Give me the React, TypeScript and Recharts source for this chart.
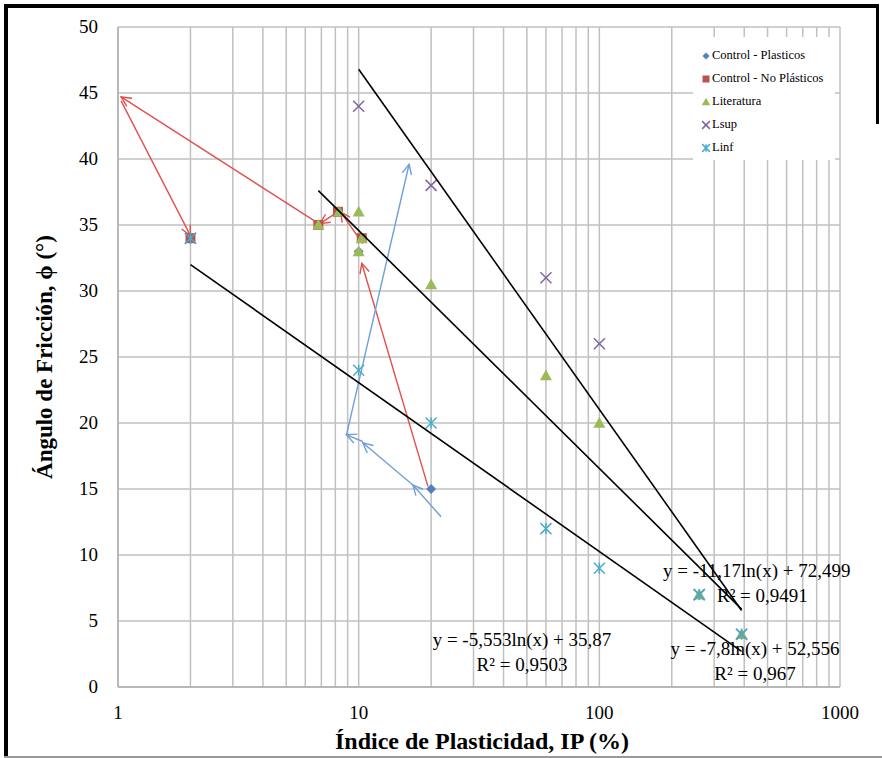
import {
  ScatterChart,
  Scatter,
  XAxis,
  YAxis,
  CartesianGrid,
  ReferenceLine,
} from "recharts";

// puntos de ensayo (IP %, phi grados)
const controlPlasticos = [
  { ip: 20, phi: 15 },
  { ip: 10, phi: 33 },
];
const controlNoPlasticos = [
  { ip: 2, phi: 34 },
  { ip: 6.8, phi: 35 },
  { ip: 8.2, phi: 36 },
  { ip: 10.3, phi: 34 },
];
const literatura = [
  { ip: 6.8, phi: 35 },
  { ip: 8.3, phi: 36 },
  { ip: 10, phi: 36 },
  { ip: 10.3, phi: 34 },
  { ip: 10, phi: 33 },
  { ip: 20, phi: 30.5 },
  { ip: 60, phi: 23.6 },
  { ip: 100, phi: 20 },
  { ip: 260, phi: 7 },
  { ip: 390, phi: 4 },
];
const lsup = [
  { ip: 2, phi: 34 },
  { ip: 10, phi: 44 },
  { ip: 20, phi: 38 },
  { ip: 60, phi: 31 },
  { ip: 100, phi: 26 },
  { ip: 260, phi: 7 },
  { ip: 390, phi: 4 },
];
const linf = [
  { ip: 2, phi: 34 },
  { ip: 10, phi: 24 },
  { ip: 20, phi: 20 },
  { ip: 60, phi: 12 },
  { ip: 100, phi: 9 },
  { ip: 260, phi: 7 },
  { ip: 390, phi: 4 },
];

// extremos de las lineas de tendencia
const trendLinf = [
  { ip: 2, phi: 32.0 },
  { ip: 390, phi: 2.7 },
];
const trendLit = [
  { ip: 6.8, phi: 37.6 },
  { ip: 390, phi: 5.9 },
];
const trendLsup = [
  { ip: 10, phi: 46.8 },
  { ip: 390, phi: 5.8 },
];

// flechas [desde, hasta]
const redArrows = [
  [{ x: 19.4, y: 15.2 }, { x: 10.3, y: 32.1 }],
  [{ x: 10.4, y: 33.6 }, { x: 8.4, y: 36.0 }],
  [{ x: 8.2, y: 36.0 }, { x: 6.9, y: 35.1 }],
  [{ x: 6.7, y: 35.2 }, { x: 1.03, y: 44.7 }],
  [{ x: 1.03, y: 44.4 }, { x: 2, y: 34.2 }],
];
const blueArrows = [
  [{ x: 22, y: 12.9 }, { x: 16.8, y: 15.3 }],
  [{ x: 16.8, y: 15.3 }, { x: 10.4, y: 18.5 }],
  [{ x: 10.4, y: 18.6 }, { x: 8.9, y: 19.1 }],
  [{ x: 8.9, y: 19.1 }, { x: 16.2, y: 39.6 }],
];

const xTicks = [
  1, 2, 3, 4, 5, 6, 7, 8, 9, 10, 20, 30, 40, 50, 60, 70, 80, 90, 100, 200,
  300, 400, 500, 600, 700, 800, 900, 1000,
];
const xLabels = [1, 10, 100, 1000];
const yTicks = [0, 5, 10, 15, 20, 25, 30, 35, 40, 45, 50];

const legendItems = [
  { name: "Control - Plasticos", kind: "diamond", color: "#4F81BD" },
  { name: "Control - No Plásticos", kind: "square", color: "#C0504D" },
  { name: "Literatura", kind: "triangle", color: "#9BBB59" },
  { name: "Lsup", kind: "x", color: "#8064A2" },
  { name: "Linf", kind: "star", color: "#4BACC6" },
];

const SERIF = "'Liberation Serif', 'Times New Roman', serif";

const marker = (kind: string, color: string, cx: number, cy: number, s = 1) => {
  if (kind === "diamond") {
    const r = 5 * s;
    return <path d={`M${cx},${cy - r}L${cx + r},${cy}L${cx},${cy + r}L${cx - r},${cy}Z`} fill={color} />;
  }
  if (kind === "square") {
    const r = 5 * s;
    return <rect x={cx - r} y={cy - r} width={2 * r} height={2 * r} fill={color} />;
  }
  if (kind === "triangle") {
    const r = 6 * s;
    return <path d={`M${cx},${cy - r}L${cx + r},${cy + r * 0.8}L${cx - r},${cy + r * 0.8}Z`} fill={color} />;
  }
  const r = 5.5 * s;
  return (
    <g stroke={color} strokeWidth={1.5}>
      <line x1={cx - r} y1={cy - r} x2={cx + r} y2={cy + r} />
      <line x1={cx - r} y1={cy + r} x2={cx + r} y2={cy - r} />
      {kind === "star" && <line x1={cx} y1={cy - r} x2={cx} y2={cy + r} />}
    </g>
  );
};

const shapeFor = (kind: string, color: string) => (p: any) => marker(kind, color, p.cx, p.cy);

const arrowShape = (color: string) => (p: any) => {
  const { x1, y1, x2, y2 } = p;
  const a = Math.atan2(y2 - y1, x2 - x1);
  const len = 11;
  const sp = 0.45;
  const hx1 = x2 - len * Math.cos(a - sp);
  const hy1 = y2 - len * Math.sin(a - sp);
  const hx2 = x2 - len * Math.cos(a + sp);
  const hy2 = y2 - len * Math.sin(a + sp);
  return (
    <g stroke={color} strokeWidth={1.4} fill="none">
      <line x1={x1} y1={y1} x2={x2} y2={y2} />
      <path d={`M${hx1},${hy1}L${x2},${y2}L${hx2},${hy2}`} />
    </g>
  );
};

const XTick = ({ x, y, payload }: any) =>
  xLabels.includes(payload.value) ? (
    <text x={x} y={y + 24} textAnchor="middle" fontFamily={SERIF} fontSize={19} fill="#000">
      {payload.value}
    </text>
  ) : (
    <g />
  );

const YTick = ({ y, payload }: any) => (
  <text x={98} y={y + 6} textAnchor="end" fontFamily={SERIF} fontSize={19} fill="#000">
    {payload.value}
  </text>
);

const noDot = () => <g />;

export default function App() {
  return (
    <div style={{ position: "absolute", left: 0, top: 0, width: 882, height: 758, background: "#fff" }}>
      <ScatterChart width={882} height={758} margin={{ top: 27, right: 42, bottom: 0, left: 0 }}>
        <CartesianGrid stroke="#c0c0c0" strokeWidth={1.5} />
        <XAxis
          type="number"
          dataKey="ip"
          scale="log"
          domain={[1, 1000]}
          ticks={xTicks}
          interval={0}
          tick={<XTick />}
          tickLine={false}
          axisLine={{ stroke: "#b0b0b0", strokeWidth: 1.5 }}
          height={71}
          allowDataOverflow
        />
        <YAxis
          type="number"
          dataKey="phi"
          domain={[0, 50]}
          ticks={yTicks}
          interval={0}
          tick={<YTick />}
          tickLine={false}
          axisLine={{ stroke: "#b0b0b0", strokeWidth: 1.5 }}
          width={118}
        />
        <Scatter name="Control - Plasticos" data={controlPlasticos} shape={shapeFor("diamond", "#4F81BD")} isAnimationActive={false} />
        <Scatter name="Control - No Plásticos" data={controlNoPlasticos} shape={shapeFor("square", "#C0504D")} isAnimationActive={false} />
        <Scatter name="Literatura" data={literatura} shape={shapeFor("triangle", "#9BBB59")} isAnimationActive={false} />
        <Scatter name="Lsup" data={lsup} shape={shapeFor("x", "#8064A2")} isAnimationActive={false} />
        <Scatter name="Linf" data={linf} shape={shapeFor("star", "#4BACC6")} isAnimationActive={false} />
        <Scatter data={trendLinf} line={{ stroke: "#000", strokeWidth: 1.6 }} shape={noDot} legendType="none" isAnimationActive={false} />
        <Scatter data={trendLit} line={{ stroke: "#000", strokeWidth: 1.6 }} shape={noDot} legendType="none" isAnimationActive={false} />
        <Scatter data={trendLsup} line={{ stroke: "#000", strokeWidth: 1.6 }} shape={noDot} legendType="none" isAnimationActive={false} />
        {redArrows.map((s, i) => (
          <ReferenceLine key={"r" + i} segment={s} shape={arrowShape("#E0504F")} ifOverflow="visible" />
        ))}
        {blueArrows.map((s, i) => (
          <ReferenceLine key={"b" + i} segment={s} shape={arrowShape("#6F9FD6")} ifOverflow="visible" />
        ))}
      </ScatterChart>
      <div
        style={{
          position: "absolute",
          left: 693,
          top: 37,
          width: 142,
          height: 123,
          background: "#fff",
          fontFamily: SERIF,
          fontSize: 12.5,
          paddingTop: 7,
          boxSizing: "border-box",
        }}
      >
        {legendItems.map((it) => (
          <div key={it.name} style={{ display: "flex", alignItems: "center", height: 23, paddingLeft: 8 }}>
            <svg width={10} height={12} style={{ marginRight: 1 }}>
              {marker(it.kind, it.color, 5, 6, 0.7)}
            </svg>
            <span>{it.name}</span>
          </div>
        ))}
      </div>
      <svg width={882} height={758} style={{ position: "absolute", left: 0, top: 0, pointerEvents: "none" }}>
        <g fontFamily={SERIF} fontSize={19} fill="#000">
          <text x={663} y={577}>y = -11,17ln(x) + 72,499</text>
          <text x={717} y={602}>R² = 0,9491</text>
          <text x={522} y={646} textAnchor="middle">y = -5,553ln(x) + 35,87</text>
          <text x={522} y={671} textAnchor="middle">R² = 0,9503</text>
          <text x={755} y={655} textAnchor="middle">y = -7,8ln(x) + 52,556</text>
          <text x={755} y={680} textAnchor="middle">R² = 0,967</text>
        </g>
        <text x={482} y={749} textAnchor="middle" fontFamily={SERIF} fontSize={24} fontWeight="bold" fill="#000">
          Índice de Plasticidad, IP (%)
        </text>
        <text
          transform="translate(52,357) rotate(-90)"
          textAnchor="middle"
          fontFamily={SERIF}
          fontSize={23}
          fontWeight="bold"
          fill="#000"
        >
          Ángulo de Fricción, ϕ (°)
        </text>
        <rect x={4} y={4} width={4} height={754} fill="#000" />
        <rect x={4} y={4} width={875} height={4} fill="#000" />
        <rect x={876} y={4} width={3} height={120} fill="#000" />
        <rect x={4} y={756} width={878} height={2} fill="#999" />
      </svg>
    </div>
  );
}
